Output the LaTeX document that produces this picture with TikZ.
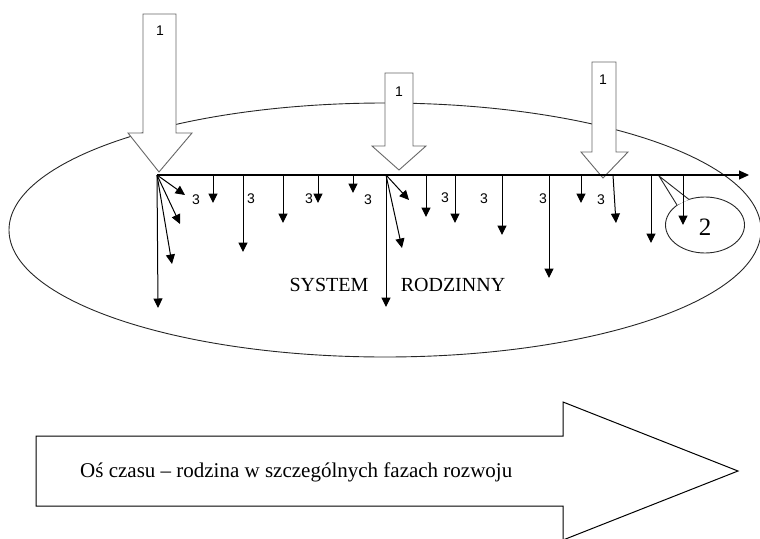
\documentclass[tikz,border=0pt]{standalone}
\usepackage{fontspec}
\setmainfont{Liberation Serif}
\newfontfamily\lsans{Liberation Sans}
\usetikzlibrary{arrows.meta,shapes.geometric}
\begin{document}
\begin{tikzpicture}[x=1pt,y=-1pt,
  sm/.style={-{Triangle[length=9.5pt,width=9pt]}, line width=1pt},
  axisline/.style={-{Triangle[length=10pt,width=9pt]}, line width=1.1pt},
  bigarr/.style={draw=black!60, line width=0.9pt, fill=white},
  num/.style={font=\lsans\fontsize{14}{15}\selectfont, inner sep=0pt},
  lbl/.style={font=\fontsize{20}{22}\selectfont, inner sep=0pt},
  oval/.style={ellipse, draw=black!85, line width=0.9pt, inner sep=0pt}
  ]
\useasboundingbox (0,0) rectangle (760,538);
\clip (0,0) rectangle (760,538);

% main system ellipse
\node[oval, minimum width=752pt, minimum height=254pt] (sys) at (385,230) {};

% big input arrows "1"
\draw[bigarr] (143,14) -- (176,14) -- (176,133) -- (192,133) -- (159,172) -- (128,133) -- (143,133) -- cycle;
\draw[bigarr] (385,73) -- (413,73) -- (413,146) -- (426,146) -- (399,170) -- (372,146) -- (385,146) -- cycle;
\draw[bigarr] (592,62) -- (616,62) -- (616,152) -- (628,152) -- (603,178) -- (581,152) -- (592,152) -- cycle;
\node[num] (one1) at (160,31) {1};
\node[num] (one2) at (399,92) {1};
\node[num] (one3) at (603,80) {1};

% callout "2"
\node[oval, minimum width=79pt, minimum height=56pt] (c2) at (705,225) {};
\coordinate (ctip) at (659,176);
\coordinate (cp1) at (677,205);
\coordinate (cp2) at (689,199.5);
\fill[white] (cp1) -- (ctip) -- (cp2) -- cycle;
\draw[line width=0.9pt, black!85] (cp1) -- (ctip) -- (cp2);
\node[font=\fontsize{25}{26}\selectfont, inner sep=0pt] (two) at (705,227) {2};

% time axis
\coordinate (a0) at (157,175);
\coordinate (a1) at (386,175);
\coordinate (aend) at (749,175);
\draw[axisline] (a0) -- (aend);

% fan at first input
\draw[sm] (a0) -- (185,195);
\draw[sm] (a0) -- (180,224);
\draw[sm] (a0) -- (172,264);
\draw[sm] (a0) -- (158,308);
% fan at second input
\draw[sm] (a1) -- (409,200);
\draw[sm] (a1) -- (402,248);
\draw[sm] (a1) -- (386,307);

% single arrows
\foreach \xx/\yy in {213/203, 243/252, 283/223, 318/203, 353/193, 426/217, 455/223, 502/235, 549/278, 581/203, 651/243, 683/225}
  \draw[sm] (\xx,175) -- (\xx,\yy);
\draw[sm] (613,175) -- (616,223);

% labels 3
\foreach \xx/\yy [count=\i] in {196/200, 251/199, 309/199, 368/200, 445/198, 484/199, 543/199, 601/200}
  \node[num] (three\i) at (\xx,\yy) {3};

% system label
\node[lbl] (systxt) at (329,285) {SYSTEM};
\node[lbl] (rodtxt) at (453,285) {RODZINNY};

% time arrow
\draw[line width=1pt] (36,436) -- (563,436) -- (563,402) -- (738,471) -- (563,540) -- (563,506) -- (36,506) -- cycle;
\node[font=\fontsize{21}{23}\selectfont, anchor=west, inner sep=0pt] (ostxt) at (80,472) {Oś czasu – rodzina w szczególnych fazach rozwoju};
\end{tikzpicture}
\end{document}
